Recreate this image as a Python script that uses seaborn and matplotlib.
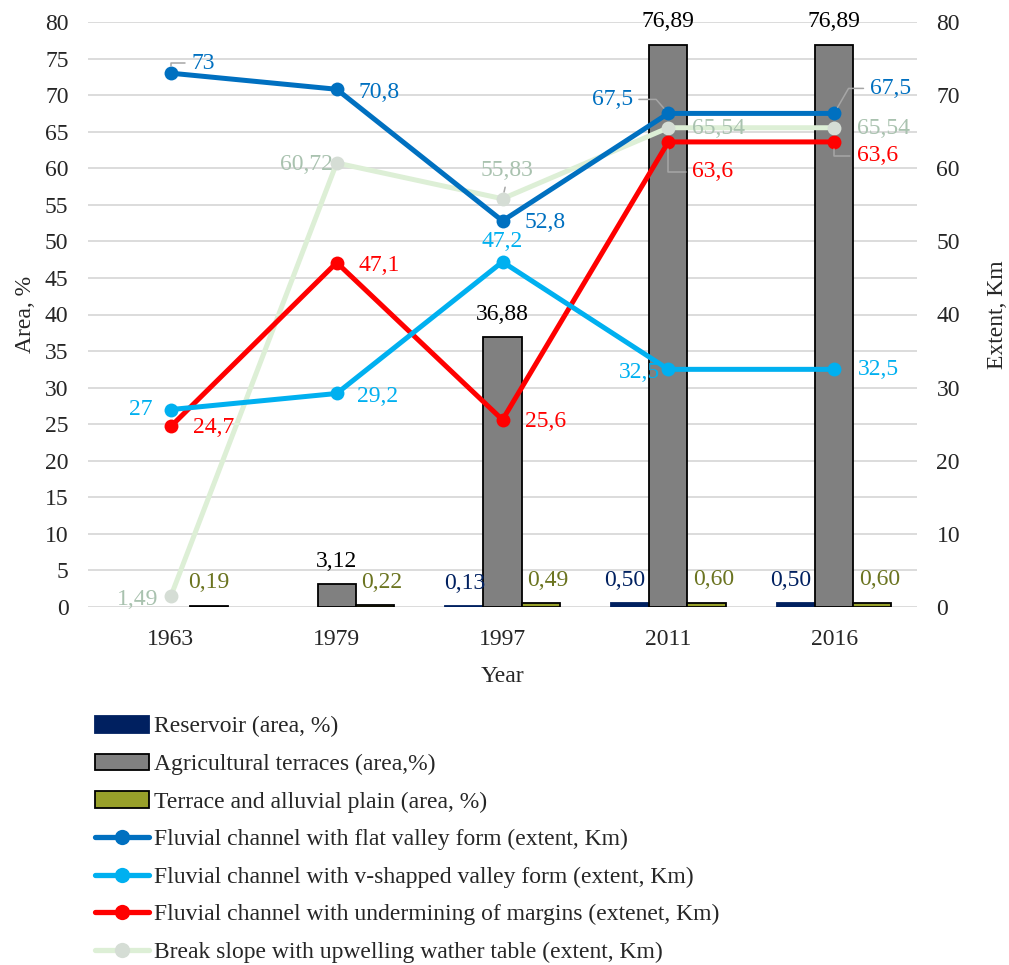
import matplotlib
matplotlib.use("Agg")
import matplotlib.pyplot as plt
import numpy as np
import pandas as pd
import seaborn as sns
from matplotlib.lines import Line2D
from matplotlib.patches import Patch

# data
years = ["1963", "1979", "1997", "2011", "2016"]

reservoir = [np.nan, np.nan, 0.13, 0.50, 0.50]
agri_terraces = [np.nan, 3.12, 36.88, 76.89, 76.89]
terrace_plain = [0.19, 0.22, 0.49, 0.60, 0.60]

flat_valley = [73, 70.8, 52.8, 67.5, 67.5]
v_valley = [27, 29.2, 47.2, 32.5, 32.5]
undermining = [24.7, 47.1, 25.6, 63.6, 63.6]
break_slope = [1.49, 60.72, 55.83, 65.54, 65.54]

bar_names = [
    "Reservoir (area, %)",
    "Agricultural terraces (area,%)",
    "Terrace and alluvial plain (area, %)",
]
line_names = [
    "Fluvial channel with flat valley form (extent, Km)",
    "Fluvial channel with v-shapped valley form (extent, Km)",
    "Fluvial channel with undermining of margins (extenet, Km)",
    "Break slope with upwelling wather table (extent, Km)",
]

# styles
bar_colors = ["#002060", "#808080", "#98A02A"]
bar_edges = ["#002060", "#000000", "#000000"]
bar_label_colors = ["#002060", "#000000", "#6B7420"]
bar_label_dx = [-5, 0, 7]

line_colors = ["#0070C0", "#00B0F0", "#FF0000", "#DDEFD6"]
marker_colors = ["#0070C0", "#00B0F0", "#FF0000", "#D5DDD5"]
line_label_colors = ["#0070C0", "#00B0F0", "#FF0000", "#A9C2AF"]
# label offsets in pixels (dx right, dy up)
line_label_offsets = [
    [(32, 10), (42, -3), (43, -2), (-56, 14), (56, 25)],
    [(-30, 0), (41, -3), (0, 20), (-29, -3), (44, 0)],
    [(43, -1), (42, -3), (43, -2), (44, -30), (43, -14)],
    [(-33, -3), (-30, -2), (4, 28), (50, -1), (49, -1)],
]
# leader lines: (series, point) -> (relpos, connectionstyle)
leaders = {
    (0, 0): ((0, 0.5), "angle,angleA=0,angleB=90,rad=0"),
    (0, 3): ((1, 0.5), "angle,angleA=0,angleB=131,rad=0"),
    (0, 4): ((0, 0.5), "angle,angleA=0,angleB=60,rad=0"),
    (2, 3): ((0, 0.5), "angle,angleA=0,angleB=90,rad=0"),
    (2, 4): ((0, 0.5), "angle,angleA=0,angleB=90,rad=0"),
    (3, 2): ((0.5, 0), "arc3"),
}


def fmt(v, dec=None):
    s = f"{v:.{dec}f}" if dec is not None else f"{v:g}"
    return s.replace(".", ",")


sns.set_style("white")
plt.rcParams["font.family"] = ["Liberation Serif", "DejaVu Serif"]
FS = 17

df = pd.DataFrame({
    "year": np.repeat(years, 3),
    "series": bar_names * len(years),
    "value": np.ravel(np.column_stack([reservoir, agri_terraces, terrace_plain])),
})

fig = plt.figure(figsize=(10.09, 9.65), dpi=100)
ax = fig.add_axes([88 / 1009, 1 - 607 / 965, (917 - 88) / 1009, (607 - 22) / 965])

sns.barplot(
    data=df, x="year", y="value", hue="series", hue_order=bar_names,
    order=years, palette=bar_colors, saturation=1, width=0.69,
    errorbar=None, legend=False, ax=ax,
)

for i, cont in enumerate(ax.containers):
    for bar in cont:
        h = bar.get_height()
        if np.isnan(h):
            continue
        bar.set_edgecolor(bar_edges[i])
        bar.set_linewidth(1.3)
        dx = bar_label_dx[i] if h > 0.2 else 0
        ax.annotate(
            fmt(h, 2), (bar.get_x() + bar.get_width() / 2, h),
            xytext=(dx, 23), textcoords="offset pixels",
            ha="center", va="center", fontsize=FS, color=bar_label_colors[i],
        )

ax.set_ylim(0, 80)
ax.set_yticks(np.arange(0, 81, 5))
ax.set_xlim(-0.5, len(years) - 0.5)
ax.yaxis.grid(True, color="#D9D9D9", lw=1.3)
ax.set_axisbelow(True)
for s in ax.spines.values():
    s.set_visible(False)
ax.tick_params(axis="both", length=0, labelsize=FS)
ax.tick_params(axis="y", pad=14)
ax.tick_params(axis="x", pad=16)
ax.set_xlabel("Year", fontsize=FS)
ax.set_ylabel("Area, %", fontsize=FS)
ax.xaxis.set_label_coords(0.5, -0.1)
ax.yaxis.set_label_coords(-0.063, 0.5)

ax2 = ax.twinx()
xs = np.arange(len(years))
series = [flat_valley, v_valley, undermining, break_slope]
# draw the pale series first so the others sit on top
for k in [3, 2, 1, 0]:
    sns.lineplot(
        x=xs, y=series[k], ax=ax2, color=line_colors[k], lw=3.6,
        marker="o", markersize=10, markerfacecolor=marker_colors[k],
        markeredgewidth=0, sort=False,
    )

for k, vals in enumerate(series):
    for j, v in enumerate(vals):
        dx, dy = line_label_offsets[k][j]
        kw = {}
        if (k, j) in leaders:
            relpos, cs = leaders[(k, j)]
            kw["arrowprops"] = dict(
                arrowstyle="-", color="#A6A6A6", lw=1.1, relpos=relpos,
                connectionstyle=cs, shrinkA=2, shrinkB=5,
            )
        ax2.annotate(
            fmt(v), (xs[j], v), xytext=(dx, dy), textcoords="offset pixels",
            ha="center", va="center", fontsize=FS, color=line_label_colors[k],
            **kw,
        )

ax2.set_ylim(0, 80)
ax2.set_yticks(np.arange(0, 81, 10))
ax2.set_xlim(-0.5, len(years) - 0.5)
for s in ax2.spines.values():
    s.set_visible(False)
ax2.tick_params(axis="y", length=0, labelsize=FS, pad=14)
ax2.set_ylabel("Extent, Km", fontsize=FS)
ax2.yaxis.set_label_coords(1.084, 0.5)

handles = [
    Patch(facecolor=bar_colors[i], edgecolor=bar_edges[i], lw=1.3) for i in range(3)
] + [
    Line2D([], [], color=line_colors[k], lw=3.8, marker="o", markersize=11,
           markerfacecolor=marker_colors[k], markeredgewidth=0)
    for k in range(4)
]
fig.legend(
    handles, bar_names + line_names, loc="upper left",
    bbox_to_anchor=(95 / 1009, 1 - 716 / 965), frameon=False,
    borderpad=0, borderaxespad=0, handlelength=2.3, handletextpad=0.2,
    labelspacing=0.68, fontsize=FS,
)

fig.savefig("out.png", dpi=100)
